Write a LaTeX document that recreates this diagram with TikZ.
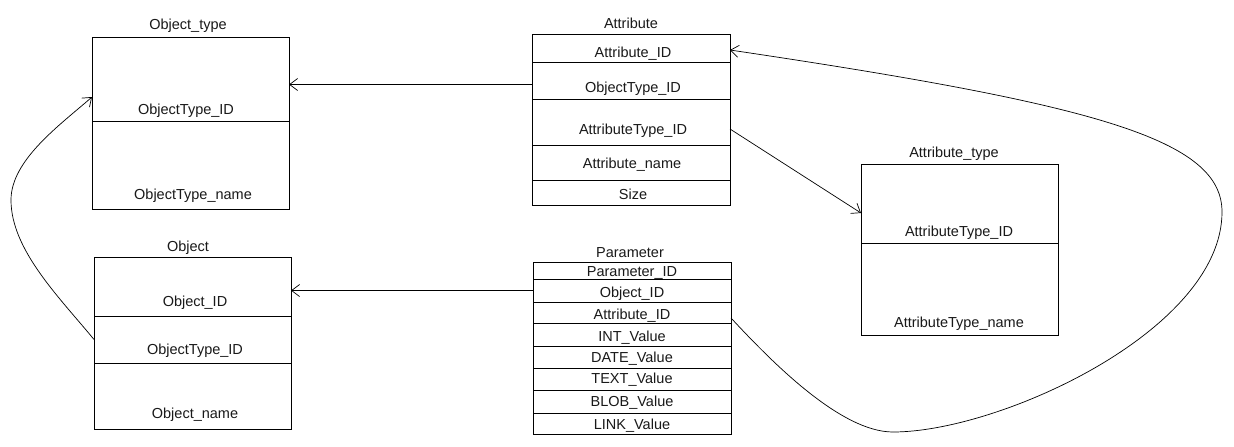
\documentclass[tikz,border=0pt]{standalone}
\usepackage{fontspec}
\setmainfont{Liberation Sans}
\usetikzlibrary{arrows.meta}
\begin{document}
\begin{tikzpicture}[x=1pt,y=-1pt,
  row/.style={draw=black, line width=0.9pt, inner sep=0pt, outer sep=0pt, anchor=north west},
  lbl/.style={anchor=base, inner sep=0pt, font=\fontsize{14.5pt}{16pt}\selectfont, text=black!90},
  arr/.style={line width=0.7pt, -{Straight Barb[length=8pt,width=12pt,line width=0.7pt]}}]
\fill[white] (0,0) rectangle (1234,447);
\useasboundingbox (0,0) rectangle (1234,447);
% Object_type
\node[row, minimum width=197, minimum height=84] (ot1) at (92,37) {};
\node[row, minimum width=197, minimum height=88] (ot2) at (92,121) {};
\node[lbl] (otT) at (188,29.5) {Object\_type};
\node[lbl] (otA) at (186,114) {ObjectType\_ID};
\node[lbl] (otB) at (193,199.3) {ObjectType\_name};
% Attribute
\node[row, minimum width=198, minimum height=28] (at1) at (532,34) {};
\node[row, minimum width=198, minimum height=37] (at2) at (532,62) {};
\node[row, minimum width=198, minimum height=46] (at3) at (532,99) {};
\node[row, minimum width=198, minimum height=35] (at4) at (532,145) {};
\node[row, minimum width=198, minimum height=25] (at5) at (532,180) {};
\node[lbl] (atT) at (631,28.3) {Attribute};
\node[lbl] (atA) at (633,57.7) {Attribute\_ID};
\node[lbl] (atB) at (633,92.3) {ObjectType\_ID};
\node[lbl] (atC) at (633,134) {AttributeType\_ID};
\node[lbl] (atD) at (632,168.3) {Attribute\_name};
\node[lbl] (atE) at (633,199.3) {Size};
% Attribute_type
\node[row, minimum width=197, minimum height=79] (aty1) at (861,164) {};
\node[row, minimum width=197, minimum height=92] (aty2) at (861,243) {};
\node[lbl] (atyT) at (954,157.3) {Attribute\_type};
\node[lbl] (atyA) at (959,236.7) {AttributeType\_ID};
\node[lbl] (atyB) at (959,327.3) {AttributeType\_name};
% Object
\node[row, minimum width=197, minimum height=59] (ob1) at (94,257) {};
\node[row, minimum width=197, minimum height=47] (ob2) at (94,316) {};
\node[row, minimum width=197, minimum height=66] (ob3) at (94,363) {};
\node[lbl] (obT) at (188,251) {Object};
\node[lbl] (obA) at (195,306) {Object\_ID};
\node[lbl] (obB) at (195,354) {ObjectType\_ID};
\node[lbl] (obC) at (195,418.7) {Object\_name};
% Parameter
\node[row, minimum width=198, minimum height=17] (p1) at (533,262) {};
\node[row, minimum width=198, minimum height=23] (p2) at (533,279) {};
\node[row, minimum width=198, minimum height=21] (p3) at (533,302) {};
\node[row, minimum width=198, minimum height=23] (p4) at (533,323) {};
\node[row, minimum width=198, minimum height=22] (p5) at (533,346) {};
\node[row, minimum width=198, minimum height=22] (p6) at (533,368) {};
\node[row, minimum width=198, minimum height=23] (p7) at (533,390) {};
\node[row, minimum width=198, minimum height=21] (p8) at (533,413) {};
\node[lbl] (pT) at (630,257.3) {Parameter};
\node[lbl] (pA) at (632,276.7) {Parameter\_ID};
\node[lbl] (pB) at (632,297.3) {Object\_ID};
\node[lbl] (pC) at (632,319) {Attribute\_ID};
\node[lbl] (pD) at (632,341) {INT\_Value};
\node[lbl] (pE) at (632,362.3) {DATE\_Value};
\node[lbl] (pF) at (632,383.3) {TEXT\_Value};
\node[lbl] (pG) at (632,406.7) {BLOB\_Value};
\node[lbl] (pH) at (632,429.3) {LINK\_Value};
% waypoints
\coordinate (lw) at (11,200);
\coordinate (bw) at (893,432);
\coordinate (rw) at (1222,212);
% connectors
\draw[arr] ([yshift=-4pt]at2.west) -- ([yshift=-4pt]at2.west -| ot1.east);
\draw[arr] (p2.west) -- (p2.west -| ob1.east);
\draw[arr] ([yshift=-7pt]at3.east) -- ([yshift=-9.5pt]aty1.west);
\draw[arr] (ob2.west) .. controls (60,298) and (11,250) .. (lw)
  .. controls (11,160) and (60,125) .. ([yshift=-18pt]ot1.west);
\draw[arr] ([yshift=-5.5pt]p3.east) .. controls (770,360) and (840,432) .. (bw)
  .. controls (1000,432) and (1222,330) .. (rw)
  .. controls (1222,140) and (1100,105) .. ([yshift=-2pt]at1.east);
\end{tikzpicture}
\end{document}
